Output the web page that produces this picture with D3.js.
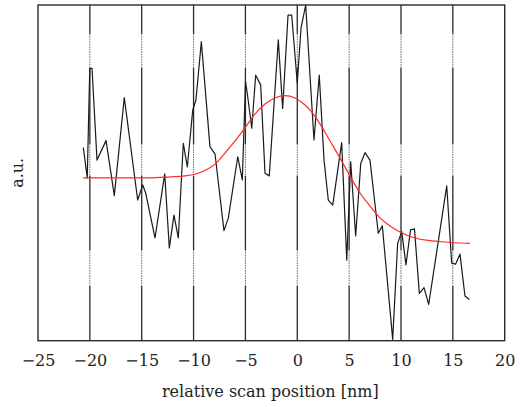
<!DOCTYPE html>
<html>
<head>
<meta charset="utf-8">
<script src="https://cdn.jsdelivr.net/npm/d3@7/dist/d3.min.js"></script>
<style>
  html, body { margin: 0; padding: 0; background: #fff; }
  svg { display: block; }
  svg text { font-family: "DejaVu Serif", "Liberation Serif", "Times New Roman", serif; fill: #222; }
</style>
</head>
<body>
<svg id="chart" width="520" height="407"></svg>
<script>
// Measured profile (a.u.) vs relative scan position (nm)
const scanX = [-20.63,-20.25,-20.01,-19.79,-19.31,-18.44,-17.64,-16.68,-15.39,-14.90,-14.62,-13.72,-12.78,-12.34,-11.89,-11.47,-10.99,-10.60,-10.08,-9.77,-9.25,-8.42,-7.93,-7.07,-6.65,-5.74,-5.30,-4.99,-4.80,-4.39,-4.01,-3.53,-3.11,-2.70,-1.83,-1.41,-0.89,-0.54,0.00,0.36,0.81,1.61,2.12,2.58,2.99,3.42,4.28,4.77,5.15,5.63,6.12,6.53,7.01,7.81,8.20,9.20,9.68,10.07,10.48,10.92,11.30,11.77,12.22,12.67,14.41,14.89,15.26,15.69,16.17,16.59];
const scanY = [57.5,48.5,81.1,81.1,53.8,59.6,43.2,72.4,41.9,46.4,44.0,30.6,49.7,27.6,37.4,30.6,58.8,51.8,68.7,71.7,89.1,57.8,55.6,32.8,36.5,54.8,47.9,77.2,73.2,63.3,79.1,76.2,49.9,49.1,89.6,69.2,97.0,97.0,76.7,93.1,100.0,59.8,79.1,53.8,41.9,40.4,59.0,24.0,53.3,31.2,52.8,56.0,53.8,32.0,34.2,0.4,29.0,32.5,22.6,33.0,33.3,14.1,15.8,10.8,46.1,23.1,22.8,25.8,13.3,12.3];

// Fitted curve (red)
const fitX = [-20.66,-17.09,-14.20,-12.27,-10.83,-9.96,-8.90,-7.93,-6.97,-6.00,-5.04,-4.08,-3.11,-2.15,-1.18,-0.22,0.75,1.23,2.19,3.16,4.12,5.08,6.05,7.01,7.98,8.94,9.91,11.35,12.80,14.24,15.69,16.65];
const fitY = [48.5,48.5,48.5,48.8,49.1,49.5,50.7,52.6,55.9,59.5,63.4,67.5,70.5,72.3,73.0,72.3,70.2,68.7,64.6,59.5,54.4,49.1,44.0,40.1,36.6,34.2,32.4,30.6,29.8,29.4,29.1,29.0];

const xTicks = [-25,-20,-15,-10,-5,0,5,10,15,20];
const xDomain = [-25, 20];
const yDomain = [0, 100];
const xLabel = "relative scan position [nm]";
const yLabel = "a.u.";

const FONT = '"DejaVu Serif", "Liberation Serif", "Times New Roman", serif';
const svg = d3.select("#chart");
const L = 38, R = 504.7, T = 5, B = 340.7;
const x = d3.scaleLinear().domain(xDomain).range([L, R]);
const y = d3.scaleLinear().domain(yDomain).range([B, T]);

// Vertical grid lines with dotted segments
const dottedBands = [[0.086, 0.188], [0.414, 0.509], [0.730, 0.837]];
const h = B - T;
const inner = xTicks.filter(t => t > xDomain[0] && t < xDomain[1]);
const g = svg.append("g");
inner.forEach(t => {
  const px = x(t);
  let prev = 0;
  dottedBands.forEach(([a, b]) => {
    g.append("line").attr("x1", px).attr("x2", px)
      .attr("y1", T + prev * h).attr("y2", T + a * h)
      .attr("stroke", "#2a2a2a").attr("stroke-width", 1.3);
    g.append("line").attr("x1", px).attr("x2", px)
      .attr("y1", T + a * h).attr("y2", T + b * h)
      .attr("stroke", "#666").attr("stroke-width", 1)
      .attr("stroke-dasharray", "1.5,1");
    prev = b;
  });
  g.append("line").attr("x1", px).attr("x2", px)
    .attr("y1", T + prev * h).attr("y2", B)
    .attr("stroke", "#2a2a2a").attr("stroke-width", 1.3);
});

// Data line
const scan = scanX.map((v, i) => [v, scanY[i]]);
svg.append("path").datum(scan)
  .attr("fill", "none").attr("stroke", "#1a1a1a").attr("stroke-width", 1.2)
  .attr("stroke-linejoin", "round")
  .attr("d", d3.line().x(d => x(d[0])).y(d => y(d[1])));

// Fit line
const fit = fitX.map((v, i) => [v, fitY[i]]);
svg.append("path").datum(fit)
  .attr("fill", "none").attr("stroke", "#ff2a2a").attr("stroke-width", 1.2)
  .attr("d", d3.line().curve(d3.curveMonotoneX).x(d => x(d[0])).y(d => y(d[1])));

// Frame
svg.append("rect").attr("x", L).attr("y", T).attr("width", R - L).attr("height", B - T)
  .attr("fill", "none").attr("stroke", "#2a2a2a").attr("stroke-width", 1.4);

// X axis labels
const axis = d3.axisBottom(x).tickValues(xTicks).tickSize(0).tickPadding(0)
  .tickFormat(d => d < 0 ? "\u2212" + Math.abs(d) : String(d));
const ax = svg.append("g").attr("transform", `translate(0,${B})`).call(axis)
  .attr("font-family", FONT).attr("font-size", 16);
ax.select(".domain").remove();
ax.selectAll("text").attr("y", 25).attr("dy", null)
  .style("font-family", FONT).style("font-size", "16px").attr("fill", "#222");

svg.append("text").attr("x", (L + R) / 2 - 1).attr("y", 397)
  .attr("text-anchor", "middle").style("font-family", FONT).style("font-size", "16px").text(xLabel);

svg.append("text").attr("transform", `translate(22.5,${(T + B) / 2}) rotate(-90)`)
  .attr("text-anchor", "middle").style("font-family", FONT).style("font-size", "16px").text(yLabel);
</script>
</body>
</html>
